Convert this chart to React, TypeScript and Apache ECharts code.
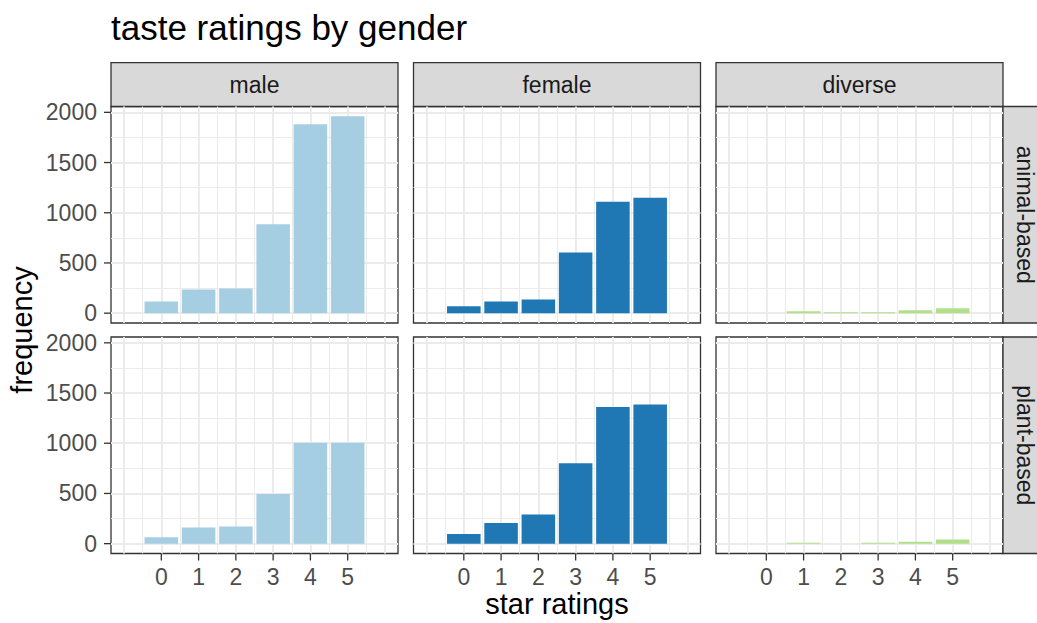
import React, { useEffect, useRef } from "react";
import * as echarts from "echarts";

// ---- data ----
const categories = [0, 1, 2, 3, 4, 5];
const genders = ["male", "female", "diverse"];
const diets = ["animal-based", "plant-based"];
const maleAnimal = [115, 235, 245, 885, 1880, 1960];
const femaleAnimal = [70, 115, 135, 605, 1110, 1150];
const diverseAnimal = [0, 18, 8, 8, 28, 50];
const malePlant = [65, 160, 170, 495, 1005, 1005];
const femalePlant = [95, 205, 290, 800, 1360, 1385];
const diversePlant = [0, 8, 0, 8, 18, 42];
const yTicks = [0, 500, 1000, 1500, 2000];
const genderColors = ["#A6CEE3", "#1F78B4", "#B2DF8A"];

const panelValues = [
  [maleAnimal, femaleAnimal, diverseAnimal],
  [malePlant, femalePlant, diversePlant],
];

// ---- layout ----
const FONT = "'Liberation Sans', Arial, Helvetica, sans-serif";
const colLeft = [111, 413.5, 716];
const rowTop = [106.5, 337];
const W = 287;
const H = 216.5;
const X_MIN = -1.35;
const X_MAX = 6.35;
const Y_MIN = -98;
const Y_MAX = 2058;
const STRIP_TOP = 62.7;
const BORDER = "#333333";
const GRIDC = "#EBEBEB";
const TICK_LEN = 7;

export default function App() {
  const ref = useRef<HTMLDivElement>(null);
  useEffect(() => {
    document.body.style.margin = "0";
    if (!ref.current) return;
    const chart = echarts.init(ref.current, null, { renderer: "svg" });
    const grids: any[] = [];
    const xAxes: any[] = [];
    const yAxes: any[] = [];
    const series: any[] = [];
    const barWidth = (0.9 * W) / (X_MAX - X_MIN);
    let idx = 0;
    for (let r = 0; r < 2; r++) {
      for (let c = 0; c < 3; c++) {
        grids.push({
          left: colLeft[c],
          top: rowTop[r],
          width: W,
          height: H,
          show: true,
          borderColor: BORDER,
          borderWidth: 1.3,
          outerBoundsMode: "none",
        });
        xAxes.push({
          type: "value",
          gridIndex: idx,
          min: X_MIN,
          max: X_MAX,
          splitNumber: 8,
          minInterval: 1,
          maxInterval: 1,
          axisLine: { show: false, onZero: false },
          axisTick: { show: false },
          axisLabel: {
            show: r === 1,
            customValues: categories,
            margin: 12,
            fontSize: 23,
            fontFamily: FONT,
            color: "#4D4D4D",
            formatter: (v: number) => String(v),
          },
          splitLine: {
            show: true,
            showMinLine: false,
            showMaxLine: false,
            lineStyle: { color: GRIDC, width: 1.9 },
          },
          minorTick: { splitNumber: 2 },
          minorSplitLine: { show: true, lineStyle: { color: GRIDC, width: 1 } },
        });
        yAxes.push({
          type: "value",
          gridIndex: idx,
          min: Y_MIN,
          max: Y_MAX,
          splitNumber: 4,
          minInterval: 500,
          maxInterval: 500,
          axisLine: { show: false, onZero: false },
          axisTick: { show: false },
          axisLabel: {
            show: c === 0,
            customValues: yTicks,
            margin: 14,
            fontSize: 23,
            fontFamily: FONT,
            color: "#4D4D4D",
            formatter: (v: number) => String(v),
          },
          splitLine: {
            show: true,
            showMinLine: false,
            showMaxLine: false,
            lineStyle: { color: GRIDC, width: 1.9 },
          },
          minorTick: { splitNumber: 2 },
          minorSplitLine: { show: true, lineStyle: { color: GRIDC, width: 1 } },
        });
        const vals = panelValues[r][c];
        series.push({
          type: "bar",
          xAxisIndex: idx,
          yAxisIndex: idx,
          barWidth,
          silent: true,
          itemStyle: { color: genderColors[c] },
          data: categories.map((cat, k) => [cat, vals[k]]),
        });
        // axis ticks (outside the panel), positioned via the axis scales
        if (c === 0) {
          series.push({
            type: "custom",
            xAxisIndex: idx,
            yAxisIndex: idx,
            silent: true,
            clip: false,
            data: yTicks.map((v) => [X_MIN, v]),
            renderItem: (params: any, api: any) => {
              const p = api.coord([api.value(0), api.value(1)]);
              return {
                type: "line",
                shape: { x1: p[0] - TICK_LEN, y1: p[1], x2: p[0], y2: p[1] },
                style: { stroke: BORDER, lineWidth: 1.3 },
              };
            },
          });
        }
        if (r === 1) {
          series.push({
            type: "custom",
            xAxisIndex: idx,
            yAxisIndex: idx,
            silent: true,
            clip: false,
            data: categories.map((v) => [v, Y_MIN]),
            renderItem: (params: any, api: any) => {
              const p = api.coord([api.value(0), api.value(1)]);
              return {
                type: "line",
                shape: { x1: p[0], y1: p[1], x2: p[0], y2: p[1] + TICK_LEN },
                style: { stroke: BORDER, lineWidth: 1.3 },
              };
            },
          });
        }
        idx++;
      }
    }

    const graphics: any[] = [];
    graphics.push({
      type: "text",
      x: 111,
      y: 27,
      style: {
        text: "taste ratings by gender",
        fontSize: 35,
        fontFamily: FONT,
        fill: "#000000",
        align: "left",
        verticalAlign: "middle",
      },
    });
    genders.forEach((g, c) => {
      graphics.push({
        type: "rect",
        shape: { x: colLeft[c], y: STRIP_TOP, width: W, height: rowTop[0] - STRIP_TOP },
        style: { fill: "#D9D9D9", stroke: BORDER, lineWidth: 1.3 },
      });
      graphics.push({
        type: "text",
        x: colLeft[c] + W / 2,
        y: (STRIP_TOP + rowTop[0]) / 2,
        style: {
          text: g,
          fontSize: 23,
          fontFamily: FONT,
          fill: "#1A1A1A",
          align: "center",
          verticalAlign: "middle",
        },
      });
    });
    const stripLeft = colLeft[2] + W;
    diets.forEach((d, r) => {
      graphics.push({
        type: "rect",
        shape: { x: stripLeft, y: rowTop[r], width: 44, height: H },
        style: { fill: "#D9D9D9", stroke: BORDER, lineWidth: 1.3 },
      });
      graphics.push({
        type: "text",
        x: stripLeft + 22,
        y: rowTop[r] + H / 2,
        rotation: -Math.PI / 2,
        style: {
          text: d,
          fontSize: 23,
          fontFamily: FONT,
          fill: "#1A1A1A",
          align: "center",
          verticalAlign: "middle",
        },
      });
    });
    graphics.push({
      type: "text",
      x: 22,
      y: (rowTop[0] + rowTop[1] + H) / 2,
      rotation: Math.PI / 2,
      style: {
        text: "frequency",
        fontSize: 29,
        fontFamily: FONT,
        fill: "#000000",
        align: "center",
        verticalAlign: "middle",
      },
    });
    graphics.push({
      type: "text",
      x: (colLeft[0] + colLeft[2] + W) / 2,
      y: 604,
      style: {
        text: "star ratings",
        fontSize: 29,
        fontFamily: FONT,
        fill: "#000000",
        align: "center",
        verticalAlign: "middle",
      },
    });

    chart.setOption({
      animation: false,
      backgroundColor: "#ffffff",
      grid: grids,
      xAxis: xAxes,
      yAxis: yAxes,
      series,
      graphic: graphics,
    });
    return () => chart.dispose();
  }, []);
  return <div ref={ref} style={{ width: 1037, height: 623 }} />;
}
